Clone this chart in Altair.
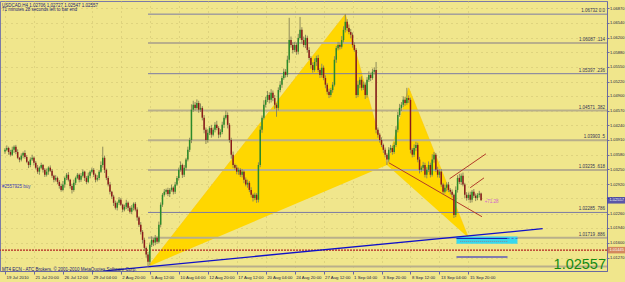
import altair as alt
import pandas as pd

# ---------------- data ----------------
first_open = 1.0365
closes = [
    1.0369, 1.0373, 1.0364, 1.0358, 1.0369, 1.0376, 1.0364, 1.0351, 1.0347, 1.0356,
    1.0362, 1.0353, 1.0342, 1.0335, 1.0347, 1.0351, 1.0340, 1.0329, 1.0320, 1.0329,
    1.0335, 1.0324, 1.0313, 1.0320, 1.0329, 1.0322, 1.0311, 1.0302, 1.0306, 1.0297,
    1.0288, 1.0279, 1.0291, 1.0306, 1.0313, 1.0302, 1.0288, 1.0279, 1.0295, 1.0306,
    1.0313, 1.0302, 1.0311, 1.0320, 1.0306, 1.0297, 1.0311, 1.0320, 1.0324, 1.0313,
    1.0302, 1.0306, 1.0320, 1.0335, 1.0351, 1.0324, 1.0306, 1.0291, 1.0275, 1.0264,
    1.0250, 1.0239, 1.0250, 1.0257, 1.0246, 1.0235, 1.0241, 1.0250, 1.0239, 1.0230,
    1.0239, 1.0248, 1.0235, 1.0217, 1.0201, 1.0185, 1.0167, 1.0149, 1.0134, 1.0118,
    1.0156, 1.0167, 1.0161, 1.0172, 1.0163, 1.0201, 1.0246, 1.0268, 1.0275, 1.0279,
    1.0270, 1.0279, 1.0284, 1.0275, 1.0291, 1.0306, 1.0324, 1.0335, 1.0313, 1.0329,
    1.0347, 1.0369, 1.0391, 1.0459, 1.0470, 1.0463, 1.0474, 1.0459, 1.0463, 1.0441,
    1.0414, 1.0391, 1.0407, 1.0418, 1.0403, 1.0414, 1.0425, 1.0418, 1.0403, 1.0409,
    1.0425, 1.0441, 1.0447, 1.0425, 1.0391, 1.0358, 1.0335, 1.0329, 1.0320, 1.0324,
    1.0313, 1.0320, 1.0302, 1.0291, 1.0295, 1.0279, 1.0268, 1.0261, 1.0268, 1.0257,
    1.0335, 1.0414, 1.0441, 1.0470, 1.0481, 1.0492, 1.0481, 1.0497, 1.0485, 1.0470,
    1.0463, 1.0503, 1.0515, 1.0530, 1.0544, 1.0537, 1.0571, 1.0615, 1.0604, 1.0593,
    1.0604, 1.0589, 1.0620, 1.0638, 1.0615, 1.0604, 1.0620, 1.0593, 1.0575, 1.0559,
    1.0548, 1.0566, 1.0575, 1.0548, 1.0537, 1.0553, 1.0530, 1.0515, 1.0499, 1.0492,
    1.0503, 1.0515, 1.0571, 1.0597, 1.0604, 1.0600, 1.0615, 1.0638, 1.0656, 1.0642,
    1.0633, 1.0627, 1.0604, 1.0593, 1.0492, 1.0515, 1.0526, 1.0508, 1.0515, 1.0492,
    1.0526, 1.0537, 1.0530, 1.0544, 1.0548, 1.0414, 1.0403, 1.0391, 1.0380, 1.0369,
    1.0358, 1.0347, 1.0369, 1.0373, 1.0364, 1.0380, 1.0414, 1.0447, 1.0463, 1.0470,
    1.0481, 1.0474, 1.0485, 1.0481, 1.0369, 1.0358, 1.0373, 1.0380, 1.0347, 1.0324,
    1.0329, 1.0335, 1.0313, 1.0324, 1.0335, 1.0313, 1.0347, 1.0358, 1.0324, 1.0313,
    1.0320, 1.0291, 1.0275, 1.0284, 1.0291, 1.0279, 1.0275, 1.0268, 1.0223, 1.0279,
    1.0306, 1.0297, 1.0311, 1.0291, 1.0268, 1.0261, 1.0268, 1.0257, 1.0275, 1.0266,
    1.0261, 1.0268, 1.0271, 1.02557,
]
up_pips = [
    4, 6, 3, 5, 7, 3, 4, 6, 2, 5,   3, 6, 4, 2, 5, 7, 3, 4, 6, 3,
    5, 2, 4, 7, 3, 5, 4, 2, 6, 3,   4, 5, 8, 3, 4, 6, 2, 5, 7, 3,
    4, 3, 6, 5, 2, 4, 7, 3, 5, 4,   3, 6, 4, 8, 25, 5, 3, 4, 6, 2,
    4, 5, 3, 6, 4, 2, 5, 7, 3, 4,   6, 3, 4, 5, 3, 6, 4, 5, 3, 6,
    5, 8, 4, 6, 3, 7, 5, 4, 6, 3,   5, 4, 7, 3, 6, 4, 5, 8, 3, 6,
    4, 7, 5, 12, 9, 6, 8, 5, 10, 4, 6, 5, 8, 4, 7, 5, 6, 9, 4, 6,
    7, 5, 10, 6, 4, 5, 7, 3, 6, 5,  4, 6, 3, 5, 7, 4, 6, 3, 5, 4,
    6, 8, 5, 10, 7, 9, 6, 8, 5, 7,  4, 6, 8, 5, 7, 6, 9, 50, 8, 6,
    7, 5, 9, 29, 6, 8, 7, 5, 6, 4,  6, 8, 5, 7, 4, 9, 5, 6, 4, 7,
    5, 6, 8, 5, 7, 6, 9, 8, 17, 6,  8, 7, 5, 6, 4, 9, 6, 8, 7, 5,
    6, 8, 5, 7, 6, 18, 5, 4, 6, 3,  5, 4, 6, 7, 5, 6, 8, 7, 9, 6,
    8, 7, 23, 6, 5, 4, 8, 7, 5, 6,  4, 7, 5, 6, 8, 5, 12, 6, 4, 7,
    5, 6, 4, 7, 5, 6, 4, 5, 3, 8,   6, 9, 5, 7, 4, 6, 5, 7, 4, 6,
    5, 4, 6, 2,
]
dn_pips = [
    5, 3, 6, 4, 3, 7, 5, 3, 6, 4,   6, 4, 3, 7, 5, 3, 6, 4, 5, 7,
    3, 6, 5, 4, 7, 3, 5, 6, 4, 5,   6, 4, 3, 7, 5, 4, 6, 8, 4, 5,
    3, 6, 5, 4, 7, 5, 3, 6, 4, 5,   6, 4, 5, 3, 6, 7, 5, 4, 6, 5,
    7, 4, 6, 5, 3, 6, 4, 5, 7, 4,   5, 6, 4, 7, 5, 6, 8, 6, 7, 11,
    7, 5, 8, 6, 5, 4, 6, 5, 4, 6,   5, 7, 4, 6, 5, 3, 6, 4, 7, 5,
    6, 4, 5, 7, 5, 6, 4, 7, 5, 6,   8, 9, 6, 5, 7, 4, 6, 5, 8, 6,
    5, 7, 4, 8, 6, 9, 7, 5, 6, 7,   5, 6, 8, 4, 7, 5, 6, 8, 5, 7,
    6, 5, 7, 4, 6, 5, 8, 6, 7, 9,   20, 6, 5, 7, 4, 6, 5, 7, 6, 8,
    5, 7, 6, 4, 8, 5, 7, 6, 5, 8,   6, 4, 9, 5, 7, 6, 5, 8, 6, 7,
    5, 6, 4, 7, 5, 6, 4, 5, 6, 7,   5, 8, 6, 4, 7, 5, 8, 6, 5, 9,
    6, 5, 7, 4, 6, 8, 7, 6, 5, 7,   6, 12, 5, 7, 6, 4, 5, 6, 4, 7,
    5, 6, 4, 7, 8, 6, 5, 7, 6, 8,   5, 7, 6, 8, 5, 6, 4, 7, 5, 6,
    7, 5, 6, 4, 8, 5, 6, 6, 7, 5,   6, 5, 7, 4, 8, 6, 5, 7, 6, 5,
    7, 5, 6, 1,
]
assert len(closes) == len(up_pips) == len(dn_pips) == 264

x_labels = ["19 Jul 2010", "21 Jul 20:00", "26 Jul 12:00", "29 Jul 04:00", "2 Aug 20:00",
            "5 Aug 12:00", "10 Aug 04:00", "12 Aug 20:00", "17 Aug 12:00", "20 Aug 04:00",
            "24 Aug 20:00", "27 Aug 12:00", "1 Sep 04:00", "3 Sep 20:00", "8 Sep 12:00",
            "13 Sep 04:00", "15 Sep 20:00"]
x_label_bars = [0, 16, 32, 48, 64, 80, 96, 112, 128, 144, 160, 176, 192, 208, 224, 240, 256]
y_ticks = [1.00950, 1.01270, 1.01600, 1.01940, 1.02260, 1.02600, 1.02920, 1.03250, 1.03580,
           1.03910, 1.04240, 1.04570, 1.04900, 1.05220, 1.05550, 1.05880, 1.06200, 1.06540, 1.06870]

# harmonic pattern points X, A, B, C, D
pattern_bar = [79, 188, 211, 223, 256]
pattern_price = [1.0107, 1.0673, 1.0335, 1.0508, 1.0172]

# fibonacci levels
fib_major_price = [1.06087, 1.04571, 1.03903, 1.03235, 1.01719, 1.01074]
fib_major_text = ["1.06087  .114", "1.04571  .382", "1.03903  .5", "1.03235  .618", "1.01719  .886", ""]
fib_minor_price = [1.06732, 1.05397, 1.02285]
fib_minor_text = ["1.06732  0.0", "1.05397  .236", "1.02285  .786"]
fib_start_bar = 79

hline_price = 1.0144
blue_trend_bar = [54, 297]
blue_trend_price = [1.0097, 1.0192]
red_seg_bar = [212, 245.6, 257]
red_seg_price = [1.0340, 1.0304, 1.0284]
red_seg_bar2 = [263.5, 265.7, 264.6]
red_seg_price2 = [1.0219, 1.0360, 1.0306]
zone_bar = [249.4, 283.1]
zone_price = [1.01584, 1.01748]
zone_line_price = 1.01703
zone_dots_price = 1.01636
target_line_price = 1.01286
target_bar = [249.4, 277.6]
pl_text = "+71.28"
pl_bar = 265
pl_price = 1.0253
last_price = 1.02557

# ---------------- tables ----------------
rows = []
prev = first_open
for i, c in enumerate(closes):
    o = prev
    rows.append({"i": i, "open": o, "close": c,
                 "high": round(max(o, c) + up_pips[i] * 0.0001, 5),
                 "low": round(min(o, c) - dn_pips[i] * 0.0001, 5)})
    prev = c
candles = pd.DataFrame(rows)

tri = pd.DataFrame({
    "tri": ["XAB"] * 3 + ["BCD"] * 3,
    "seq": [0, 1, 2, 0, 1, 2],
    "bar": [pattern_bar[0], pattern_bar[1], pattern_bar[2], pattern_bar[2], pattern_bar[3], pattern_bar[4]],
    "price": [pattern_price[0], pattern_price[1], pattern_price[2], pattern_price[2], pattern_price[3], pattern_price[4]],
})
fib_major = pd.DataFrame({"price": fib_major_price, "text": fib_major_text, "start": fib_start_bar})
fib_minor = pd.DataFrame({"price": fib_minor_price, "text": fib_minor_text, "start": fib_start_bar})
blue_trend = pd.DataFrame({"bar": blue_trend_bar, "price": blue_trend_price})
red_segs = pd.DataFrame({"b1": red_seg_bar, "p1": red_seg_price, "b2": red_seg_bar2, "p2": red_seg_price2})

W, H = 607, 270
FS = 4.0
xs = alt.Scale(domain=[0, 329.8], nice=False, zero=False)
ys = alt.Scale(domain=[1.00972, 1.07027], nice=False, zero=False)
AX = "#6A6AA0"
label_js = "[" + ",".join("'" + t + "'" for t in x_labels) + "]"
xaxis = alt.Axis(title=None, values=x_label_bars, labelExpr=label_js + "[round(datum.value/16)]",
                 labelAlign="left", labelBaseline="top", labelFontSize=4.3, labelColor="#222244",
                 labelPadding=1.5, labelOffset=1, tickSize=3, tickColor=AX, domainColor=AX,
                 grid=True, gridColor="#C9BC6E", gridDash=[1, 4], gridOpacity=0.9,
                 labelOverlap=False, labelBound=False, labelFlush=False, labelFont="Liberation Sans")
yaxis = alt.Axis(title=None, orient="right", values=y_ticks, format=".5f", labelFontSize=FS,
                 labelColor="#222244", labelPadding=0.5, tickSize=2, tickColor=AX, domainColor=AX,
                 grid=True, gridColor="#C9BC6E", gridDash=[1, 4], gridOpacity=0.9,
                 labelOverlap=False, labelBound=False, labelFlush=False, labelFont="Liberation Sans")


def X(f):
    return alt.X(f, scale=xs, axis=xaxis)


def Y(f):
    return alt.Y(f, scale=ys, axis=yaxis)


one = pd.DataFrame({"a": [0]})

triangles = alt.Chart(tri).mark_line(fill="#FFD700", stroke="#FFC800", strokeWidth=0.6).encode(
    x=X("bar:Q"), y=Y("price:Q"), detail="tri:N", order="seq:Q")

fib_major_rules = alt.Chart(fib_major).mark_rule(color="#B9AF8A", strokeWidth=2).encode(
    x=X("start:Q"), x2=alt.value(W), y=Y("price:Q"))
fib_minor_rules = alt.Chart(fib_minor).mark_rule(color="#7C7CA4", strokeWidth=1).encode(
    x=X("start:Q"), x2=alt.value(W), y=Y("price:Q"))
fib_texts = alt.Chart(pd.concat([fib_major, fib_minor])).mark_text(
    align="right", baseline="bottom", dy=-1, fontSize=4.5, color="#333355", font="Liberation Sans").encode(
    x=alt.value(W - 2), y=Y("price:Q"), text="text:N")

hline = alt.Chart(pd.DataFrame({"price": [hline_price]})).mark_rule(
    color="#B22222", strokeWidth=1.2, strokeDash=[2, 1]).encode(y=Y("price:Q"))

blue_line = alt.Chart(blue_trend).mark_line(color="#1010C8", strokeWidth=1.3, clip=True).encode(
    x=X("bar:Q"), y=Y("price:Q"))

red_lines = alt.Chart(red_segs).mark_rule(color="#B23A2A", strokeWidth=1).encode(
    x=X("b1:Q"), y=Y("p1:Q"), x2="b2:Q", y2="p2:Q")

zone = alt.Chart(pd.DataFrame({"b1": [zone_bar[0]], "b2": [zone_bar[1]],
                               "p1": [zone_price[0]], "p2": [zone_price[1]]})).mark_rect(
    color="#38D8EE").encode(x=X("b1:Q"), x2="b2:Q", y=Y("p1:Q"), y2="p2:Q")
zone_line = alt.Chart(pd.DataFrame({"b1": [zone_bar[0]], "b2": [target_bar[1]], "p": [zone_line_price]})).mark_rule(
    color="#1010B0", strokeWidth=1).encode(x=X("b1:Q"), x2="b2:Q", y=Y("p:Q"))
zone_dash = alt.Chart(pd.DataFrame({"b1": [target_bar[1]], "b2": [zone_bar[1]], "p": [zone_line_price]})).mark_rule(
    color="#5060D0", strokeWidth=1, strokeDash=[2, 2]).encode(x=X("b1:Q"), x2="b2:Q", y=Y("p:Q"))
zone_dots = alt.Chart(pd.DataFrame({"b1": [251.5], "b2": [target_bar[1]], "p": [zone_dots_price]})).mark_rule(
    color="#8A8A8A", strokeWidth=1, strokeDash=[1, 1]).encode(x=X("b1:Q"), x2="b2:Q", y=Y("p:Q"))
target_line = alt.Chart(pd.DataFrame({"b1": [target_bar[0]], "b2": [target_bar[1]], "p": [target_line_price]})).mark_rule(
    color="#1010D0", strokeWidth=1.2).encode(x=X("b1:Q"), x2="b2:Q", y=Y("p:Q"))

wicks = alt.Chart(candles).mark_rule(color="#8E8A5A", strokeWidth=1).encode(
    x=X("i:Q"), y=Y("low:Q"), y2="high:Q")
bodies = alt.Chart(candles).mark_bar(width=1.5).encode(
    x=X("i:Q"), y=Y("open:Q"), y2="close:Q",
    color=alt.condition("datum.close >= datum.open", alt.value("#2A8A2A"), alt.value("#8A1A1A")))

pl = alt.Chart(pd.DataFrame({"b": [pl_bar], "p": [pl_price], "t": [pl_text]})).mark_text(
    align="left", baseline="middle", fontSize=4.5, color="#D060D0", font="Liberation Sans").encode(
    x=X("b:Q"), y=Y("p:Q"), text="t:N")

tag_df = pd.DataFrame({"p": [last_price, hline_price], "t": ["1.02557", "1.01445"],
                       "k": ["last", "line"]})
tags = alt.Chart(tag_df).mark_tick(size=18, thickness=6.5).encode(
    x=alt.value(616.5), y=Y("p:Q"),
    color=alt.Color("k:N", scale=alt.Scale(domain=["last", "line"], range=["#1A1AB4", "#C8604A"]), legend=None))
tag_txt = alt.Chart(tag_df).mark_text(align="left", baseline="middle", fontSize=FS, color="white",
                                      font="Liberation Sans").encode(
    x=alt.value(609.5), y=Y("p:Q"), text="t:N")

def label(txt, x, y, color, size=4.5, align="left", baseline="middle", weight="normal"):
    return alt.Chart(one).mark_text(text=txt, align=align, baseline=baseline, fontSize=size,
                                    color=color, font="Liberation Sans", fontWeight=weight).encode(
        x=alt.value(x), y=alt.value(y))

t1 = label("USDCAD,H4  1.02706 1.02727 1.02547 1.02557", 2, 4.5, "#1A1A70")
t2 = label("71 minutes 28 seconds left to bar end", 2, 9, "#1A1A70")
t3 = label("#2557925 buy", 2, 186, "#3A3AB4")
t4 = label("MT4 ECN - ATC Brokers, \u00a9 2001-2010 MetaQuotes Software Corp.", 2, 269, "#1A1A70")
big = label("1.02557", 606, 271, "#138A13", size=14.5, align="right", baseline="bottom")

chart = alt.layer(
    triangles, fib_major_rules, fib_minor_rules, fib_texts, hline, zone, zone_dots, zone_line,
    zone_dash, target_line, blue_line, red_lines, wicks, bodies, pl, tags, tag_txt,
    t1, t2, t3, t4, big,
).properties(
    width=W, height=H, autosize=alt.AutoSizeParams(type="none"),
    padding={"left": 0, "right": 18, "top": 1, "bottom": 11},
    background="#F0E68C",
).configure_view(stroke="#7A7AA8", strokeWidth=1, fill="#F0E68C")

chart.save("out.html", embed_options={"renderer": "svg", "actions": False})
